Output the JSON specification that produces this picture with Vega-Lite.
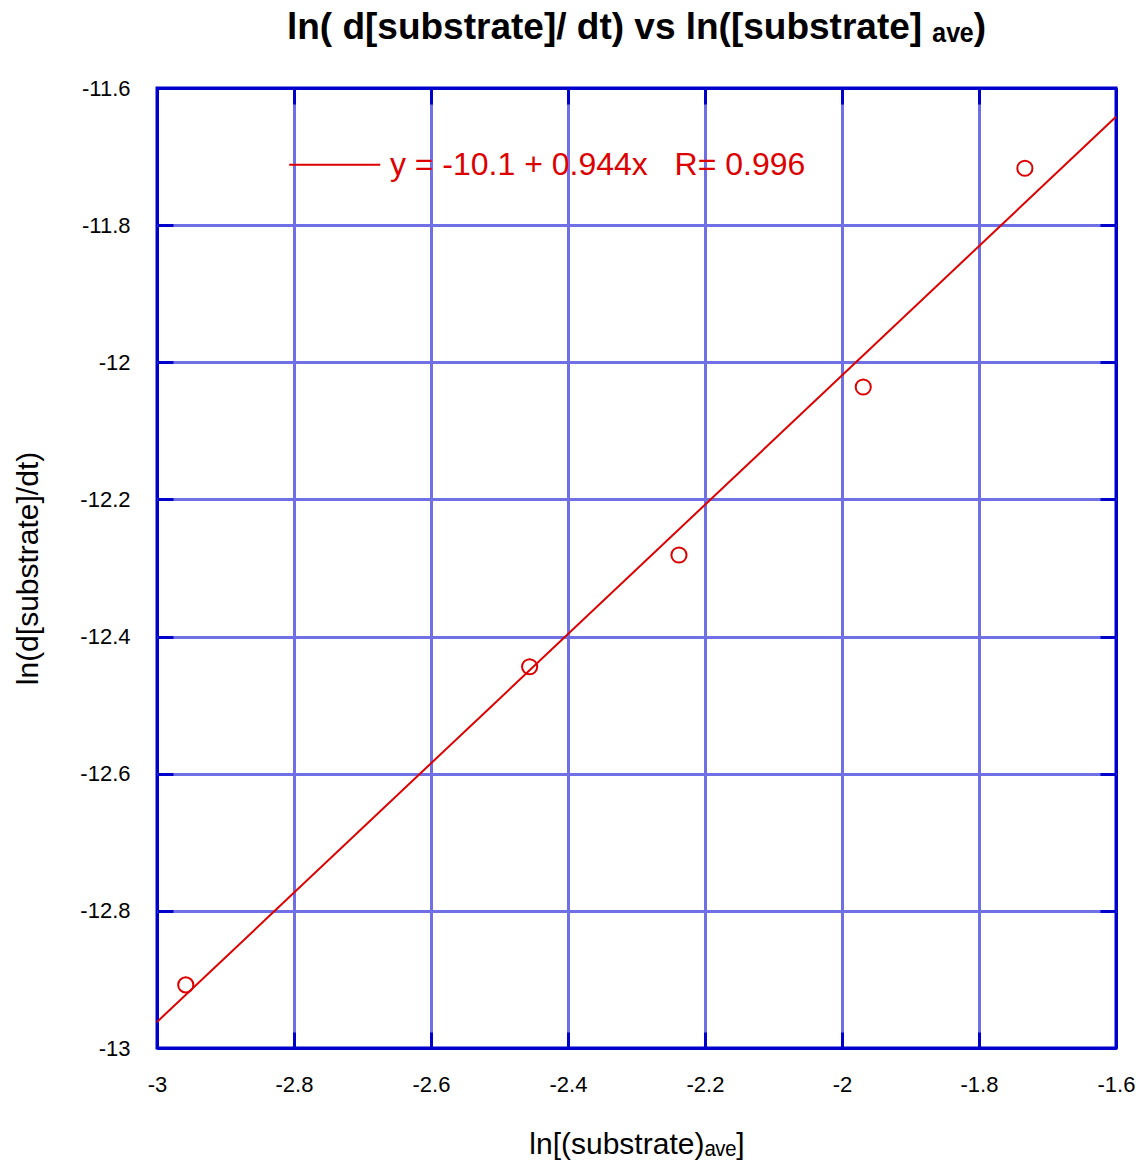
{
  "$schema": "https://vega.github.io/schema/vega-lite/v6.json",
  "width": 959,
  "height": 960,
  "autosize": {"type": "none"},
  "padding": {"left": 157, "top": 88, "right": 23, "bottom": 122},
  "background": "white",
  "title": {
    "text": "ln( d[substrate]/ dt) vs ln([substrate] ₐᵥₑ)",
    "font": "Liberation Sans",
    "fontSize": 37,
    "fontWeight": "bold",
    "color": "black",
    "anchor": "middle",
    "frame": "group",
    "baseline": "alphabetic",
    "offset": 1
  },
  "config": {
    "view": {"stroke": "#0000cc", "strokeWidth": 3},
    "axis": {
      "labelFont": "Liberation Sans",
      "titleFont": "Liberation Sans",
      "labelFontSize": 22,
      "titleFontSize": 30,
      "titleFontWeight": "normal",
      "labelColor": "black",
      "titleColor": "black",
      "domain": false,
      "tickColor": "#0000cc",
      "tickWidth": 3,
      "tickSize": -16,
      "gridWidth": 3,
      "gridOpacity": 1
    }
  },
  "datasets": {
    "points": [
      {"lnS": -2.958, "lnRate": -12.908},
      {"lnS": -2.456, "lnRate": -12.444},
      {"lnS": -2.238, "lnRate": -12.281},
      {"lnS": -1.969, "lnRate": -12.036},
      {"lnS": -1.733, "lnRate": -11.717}
    ],
    "fit": [
      {"lnS": -3.0, "lnRate": -12.962},
      {"lnS": -1.6, "lnRate": -11.642}
    ],
    "legend": [
      {"x1": -2.807, "x2": -2.674, "xt": -2.66, "y": -11.712, "label": "y = -10.1 + 0.944x\u00a0\u00a0\u00a0R= 0.996"}
    ]
  },
  "layer": [
    {
      "data": {"name": "fit"},
      "mark": {"type": "line", "color": "#dd0000", "strokeWidth": 2},
      "encoding": {
        "x": {
          "field": "lnS", "type": "quantitative",
          "scale": {"domain": [-3, -1.6], "nice": false, "zero": false},
          "axis": {
            "orient": "bottom",
            "values": [-3, -2.8, -2.6, -2.4, -2.2, -2, -1.8, -1.6],
            "labelExpr": "'' + datum.value",
            "labelPadding": 42,
            "labelFlush": false,
            "title": "ln[(substrate)ₐᵥₑ]",
            "titlePadding": 34,
            "grid": true,
            "gridColor": {"condition": {"test": "datum.value <= -2.99 || datum.value >= -1.61", "value": "#0000cc"}, "value": "#7070e6"}
          }
        },
        "y": {
          "field": "lnRate", "type": "quantitative",
          "scale": {"domain": [-13, -11.6], "nice": false, "zero": false},
          "axis": {
            "orient": "left",
            "values": [-13, -12.8, -12.6, -12.4, -12.2, -12, -11.8, -11.6],
            "labelExpr": "'' + datum.value",
            "labelPadding": 43,
            "labelFlush": false,
            "title": "ln(d[substrate]/dt)",
            "titlePadding": 36,
            "grid": true,
            "gridColor": {"condition": {"test": "datum.value <= -12.99 || datum.value >= -11.61", "value": "#0000cc"}, "value": "#7070e6"}
          }
        }
      }
    },
    {
      "data": {"name": "points"},
      "mark": {"type": "point", "shape": "circle", "filled": false, "color": "#dd0000", "size": 230, "strokeWidth": 2, "opacity": 1},
      "encoding": {
        "x": {
          "field": "lnS", "type": "quantitative",
          "axis": {
            "orient": "top",
            "values": [-3, -2.8, -2.6, -2.4, -2.2, -2, -1.8, -1.6],
            "labels": false, "title": null, "grid": false
          }
        },
        "y": {
          "field": "lnRate", "type": "quantitative",
          "axis": {
            "orient": "right",
            "values": [-13, -12.8, -12.6, -12.4, -12.2, -12, -11.8, -11.6],
            "labels": false, "title": null, "grid": false
          }
        }
      }
    },
    {
      "data": {"name": "legend"},
      "mark": {"type": "rule", "color": "#dd0000", "strokeWidth": 2},
      "encoding": {
        "x": {"field": "x1", "type": "quantitative", "axis": null},
        "x2": {"field": "x2"},
        "y": {"field": "y", "type": "quantitative", "axis": null}
      }
    },
    {
      "data": {"name": "legend"},
      "mark": {"type": "text", "color": "#dd0000", "font": "Liberation Sans", "fontSize": 32, "align": "left", "baseline": "middle"},
      "encoding": {
        "x": {"field": "xt", "type": "quantitative", "axis": null},
        "y": {"field": "y", "type": "quantitative", "axis": null},
        "text": {"field": "label"}
      }
    }
  ]
}
